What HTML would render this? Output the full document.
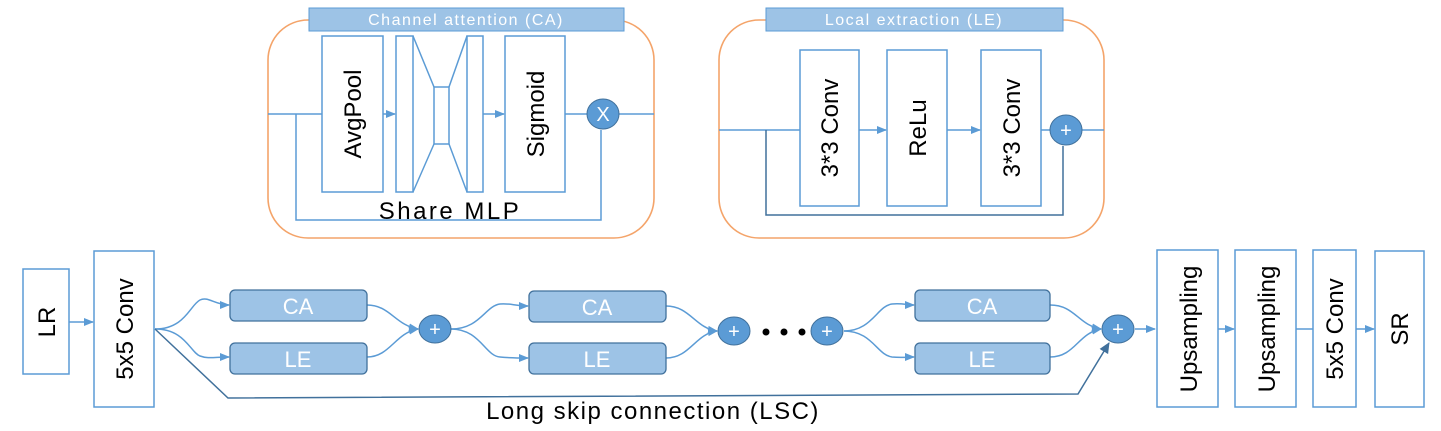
<!DOCTYPE html>
<html><head><meta charset="utf-8"><style>
body{margin:0;background:#fff;}
svg{display:block;font-family:"Liberation Sans",sans-serif;}
</style></head><body>
<svg width="1441" height="431" viewBox="0 0 1441 431" xmlns="http://www.w3.org/2000/svg">
<defs>
<marker id="a" markerWidth="10" markerHeight="10" refX="9" refY="5" orient="auto" markerUnits="userSpaceOnUse"><path d="M0,1 L10,5 L0,9 z" fill="#5b9bd5"/></marker>
<marker id="b" markerWidth="12" markerHeight="12" refX="10" refY="6" orient="auto" markerUnits="userSpaceOnUse"><path d="M0,1 L11,6 L0,11 z" fill="#41719c"/></marker>
</defs>
<g fill="none" stroke="#5b9bd5" stroke-width="1.5">
<rect x="268" y="20" width="386" height="218" rx="40" stroke="#f4a46a" stroke-width="1.6"/>
<line x1="268" y1="114" x2="322" y2="114"/>
<line x1="383" y1="114" x2="395" y2="114" marker-end="url(#a)"/>
<line x1="483" y1="114" x2="504" y2="114" marker-end="url(#a)"/>
<line x1="565" y1="114" x2="588" y2="114"/>
<line x1="618" y1="114" x2="654" y2="114"/>
<polyline points="296,114 296,220 601,220 601,130"/>
<rect x="322" y="36" width="61" height="156" fill="#fff"/>
<rect x="396" y="36" width="17" height="156" fill="#fff"/>
<rect x="467" y="36" width="16" height="156" fill="#fff"/>
<rect x="434" y="87" width="15" height="57" fill="#fff"/>
<polyline points="413,36 434,87"/><polyline points="413,192 434,144"/>
<polyline points="467,36 449,87"/><polyline points="467,192 449,144"/>
<rect x="505" y="36" width="60" height="156" fill="#fff"/>
<rect x="719" y="20" width="385" height="218" rx="40" stroke="#f4a46a" stroke-width="1.6"/>
<line x1="719" y1="130" x2="800" y2="130"/>
<line x1="859" y1="130" x2="886" y2="130" marker-end="url(#a)"/>
<line x1="947" y1="130" x2="980" y2="130" marker-end="url(#a)"/>
<line x1="1041" y1="130" x2="1050" y2="130"/>
<line x1="1082" y1="130" x2="1104" y2="130"/>
<polyline points="766,130 766,215 1063,215 1063,146" stroke="#41719c"/>
<rect x="800" y="50" width="59" height="156" fill="#fff"/>
<rect x="887" y="50" width="60" height="156" fill="#fff"/>
<rect x="981" y="50" width="60" height="156" fill="#fff"/>
<rect x="23" y="269" width="46" height="105"/>
<line x1="69" y1="322" x2="93" y2="322" marker-end="url(#a)"/>
<rect x="94" y="251" width="60" height="156"/>
<path d="M155,329 C185,329 190,305 200,300 C208,296 215,305 229,305" marker-end="url(#a)"/>
<path d="M155,329 C185,329 190,352 200,356 C208,359 215,357 229,357" marker-end="url(#a)"/>
<path d="M367,305 C390,305 395,325 418,329" marker-end="url(#a)"/>
<path d="M367,357 C390,357 395,333 418,329" marker-end="url(#a)"/>
<path d="M451,329 C480,329 485,306 500,304 C510,303 515,306 528,306" marker-end="url(#a)"/>
<path d="M451,329 C480,329 485,356 500,357 C510,358 515,358 528,358" marker-end="url(#a)"/>
<path d="M666,306 C690,306 695,328 717,331" marker-end="url(#a)"/>
<path d="M666,358 C690,358 695,334 717,331" marker-end="url(#a)"/>
<path d="M844,331 C872,331 877,306 892,304 C902,303 907,305 914,305" marker-end="url(#a)"/>
<path d="M844,331 C872,331 877,355 892,357 C902,358 907,357 914,357" marker-end="url(#a)"/>
<path d="M1050,305 C1075,305 1078,325 1101,329" marker-end="url(#a)"/>
<path d="M1050,357 C1075,357 1078,333 1101,329" marker-end="url(#a)"/>
<polyline points="155,329 228,398 1078,394 1109,343" stroke="#41719c" marker-end="url(#b)"/>
<line x1="1135" y1="329" x2="1155" y2="329" marker-end="url(#a)"/>
<rect x="1157" y="250" width="61" height="157"/>
<line x1="1218" y1="329" x2="1234" y2="329" marker-end="url(#a)"/>
<rect x="1235" y="250" width="61" height="157"/>
<line x1="1296" y1="329" x2="1313" y2="329"/>
<rect x="1313" y="250" width="43" height="157"/>
<line x1="1356" y1="329" x2="1374" y2="329" marker-end="url(#a)"/>
<rect x="1375" y="251" width="49" height="156"/>
</g>
<rect x="309" y="8" width="315" height="23" fill="#9dc3e6" stroke="#5b9bd5"/>
<text x="466" y="25" font-size="16" letter-spacing="1.5" fill="#fff" text-anchor="middle">Channel attention (CA)</text>
<rect x="766" y="8" width="297" height="23" fill="#9dc3e6" stroke="#5b9bd5"/>
<text x="914" y="25" font-size="16" letter-spacing="1.5" fill="#fff" text-anchor="middle">Local extraction (LE)</text>
<g fill="#5b9bd5" stroke="#41719c">
<ellipse cx="603" cy="114" rx="16" ry="15"/>
<ellipse cx="1066" cy="130" rx="16" ry="15"/>
<ellipse cx="435" cy="329" rx="16" ry="14"/>
<ellipse cx="734" cy="331" rx="16" ry="14"/>
<ellipse cx="827" cy="331" rx="16" ry="14"/>
<ellipse cx="1118" cy="329" rx="16" ry="14"/>
</g>
<g fill="#fff" font-size="20" text-anchor="middle">
<text x="603" y="121">X</text>
<text x="1066" y="137">+</text>
<text x="435" y="336">+</text>
<text x="734" y="338">+</text>
<text x="827" y="338">+</text>
<text x="1118" y="336">+</text>
</g>
<g fill="#000"><circle cx="766" cy="332" r="3.5"/><circle cx="784" cy="332" r="3.5"/><circle cx="802" cy="332" r="3.5"/></g>
<g fill="#9dc3e6" stroke="#41719c" stroke-width="1.3">
<rect x="230" y="290" width="137" height="31" rx="5"/>
<rect x="230" y="343" width="137" height="31" rx="5"/>
<rect x="529" y="291" width="137" height="31" rx="5"/>
<rect x="529" y="343" width="137" height="31" rx="5"/>
<rect x="915" y="290" width="135" height="31" rx="5"/>
<rect x="915" y="343" width="135" height="31" rx="5"/>
</g>
<g fill="#fff" font-size="22" text-anchor="middle">
<text x="298" y="314">CA</text><text x="298" y="367">LE</text>
<text x="597" y="315">CA</text><text x="597" y="367">LE</text>
<text x="982" y="314">CA</text><text x="982" y="367">LE</text>
</g>
<g fill="#000" font-size="24" text-anchor="middle">
<text transform="translate(361,114) rotate(-90)">AvgPool</text>
<text transform="translate(544,114) rotate(-90)">Sigmoid</text>
<text transform="translate(838,128) rotate(-90)">3*3 Conv</text>
<text transform="translate(926,128) rotate(-90)">ReLu</text>
<text transform="translate(1020,128) rotate(-90)">3*3 Conv</text>
<text transform="translate(55,322) rotate(-90)">LR</text>
<text transform="translate(133,329) rotate(-90)">5x5 Conv</text>
<text transform="translate(1197,329) rotate(-90)">Upsampling</text>
<text transform="translate(1275,329) rotate(-90)">Upsampling</text>
<text transform="translate(1343,329) rotate(-90)">5x5 Conv</text>
<text transform="translate(1408,329) rotate(-90)">SR</text>
</g>
<text x="450" y="219" font-size="24" letter-spacing="2.5" text-anchor="middle" fill="#000">Share MLP</text>
<text x="653" y="419" font-size="24" letter-spacing="1.5" text-anchor="middle" fill="#000">Long skip connection (LSC)</text>
</svg>
</body></html>
